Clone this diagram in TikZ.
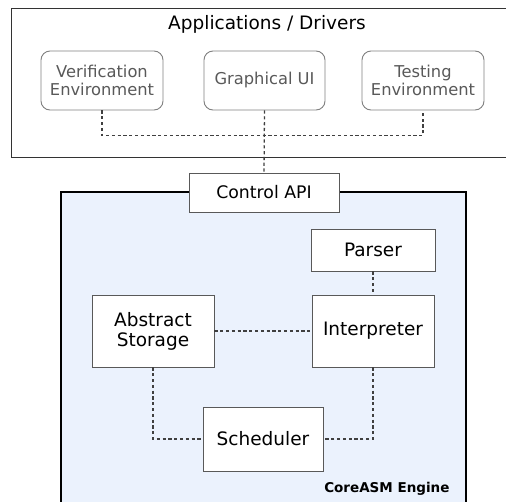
\documentclass[tikz,border=0pt]{standalone}
\usepackage{fontspec}
\setmainfont{DejaVu Sans}
\definecolor{enginefill}{HTML}{EBF2FD}
\begin{document}
\begin{tikzpicture}[x=1pt,y=-1pt,
  appbox/.style={draw=black!50, line width=0.9pt, rounded corners=9pt, fill=white,
    text=black!65, align=center, inner sep=0pt, font=\fontsize{16.3}{18.5}\selectfont},
  partbox/.style={draw=black!65, line width=0.9pt, fill=white, align=center,
    inner sep=0pt, font=\fontsize{18.5}{21}\selectfont},
  link/.style={draw=black!75, line width=1.3pt, dash pattern=on 3.2pt off 2.6pt}]
\useasboundingbox (0,0) rectangle (506,501);

% application layer frame
\draw[black!80, line width=1pt, fill=white] (11,8) rectangle (512,157);
\node[font=\fontsize{18.5}{21}\selectfont] (appstitle) at (267,24) {Applications / Drivers};

\node[appbox, minimum width=122pt, minimum height=59pt] (verif) at (102,80.5) {Verification\\[-1pt]Environment};
\node[appbox, minimum width=121pt, minimum height=59pt] (gui) at (264.5,80.5) {Graphical UI};
\node[appbox, minimum width=122pt, minimum height=59pt] (test) at (423,80.5) {Testing\\[-1pt]Environment};

% engine frame
\draw[black, line width=1.5pt, fill=enginefill] (61,192) rectangle (466,515);
\node[font=\bfseries\fontsize{13.5}{15}\selectfont, anchor=east] (enginelabel) at (453,489) {CoreASM Engine};

\node[partbox, minimum width=150pt, minimum height=39pt, font=\fontsize{17.3}{20}\selectfont] (ctrl) at (264,192.5) {Control API};
\node[partbox, minimum width=124pt, minimum height=42pt] (parser) at (373,250) {Parser};
\node[partbox, minimum width=122pt, minimum height=72pt] (interp) at (373,331) {Interpreter};
\node[partbox, minimum width=122pt, minimum height=72pt] (storage) at (153,331) {Abstract\\[-1pt]Storage};
\node[partbox, minimum width=120pt, minimum height=64pt] (sched) at (263,439) {Scheduler};

% connectors
\draw[link] (verif.south) -- ++(0,25) -| (test.south);
\draw[link] (gui.south) -- (ctrl.north);
\draw[link] (parser.south) -- (interp.north);
\draw[link] (storage.east) -- (interp.west);
\draw[link] (storage.south) |- (sched.west);
\draw[link] (interp.south) |- (sched.east);
\end{tikzpicture}
\end{document}
